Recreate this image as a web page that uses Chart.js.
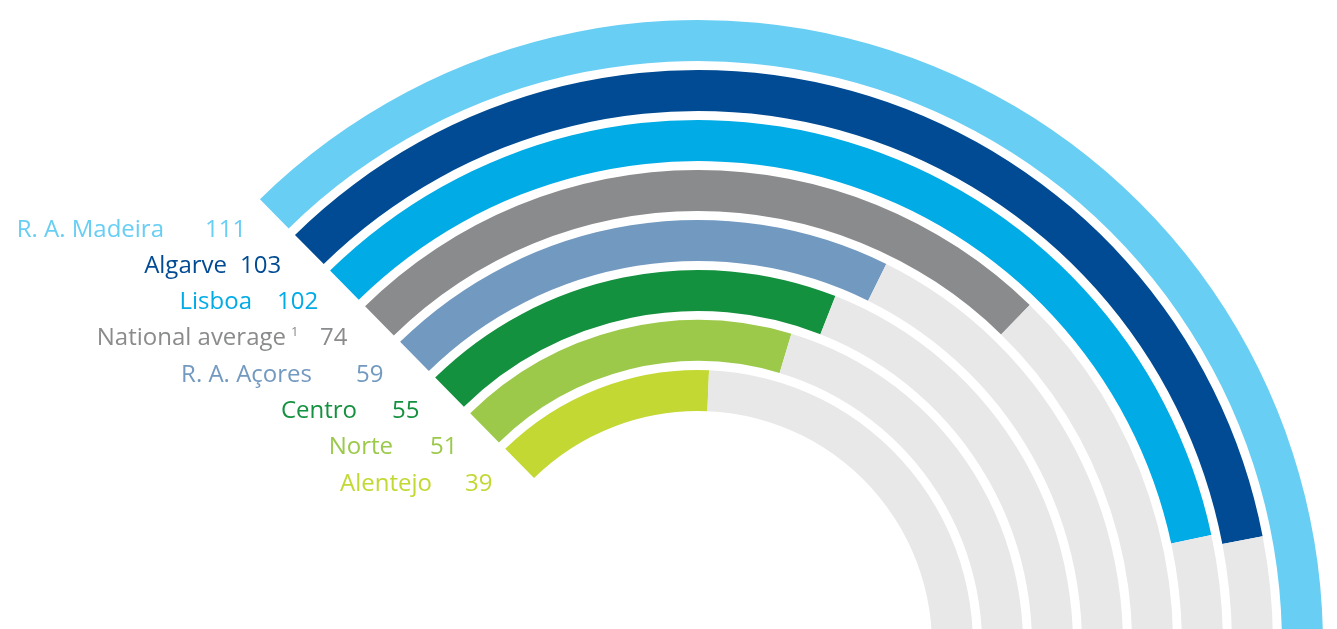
<!DOCTYPE html>
<html>
<head>
<meta charset="utf-8">
<script src="https://cdn.jsdelivr.net/npm/chart.js@4/dist/chart.umd.min.js"></script>
<style>
  html, body { margin: 0; padding: 0; background: #fff; overflow: hidden; }
  #wrap { position: relative; width: 1337px; height: 629px; overflow: hidden; }
  #chart { position: absolute; left: 0; top: 0; }
  .lbl { position: absolute; font-family: "Open Sans", "Noto Sans", sans-serif; font-size: 24px; line-height: 24px; white-space: nowrap; }
  .sup { position: absolute; font-family: "Open Sans", "Noto Sans", sans-serif; font-size: 13px; line-height: 13px; }
</style>
</head>
<body>
<div id="wrap">
  <canvas id="chart" width="1337" height="1290"></canvas>
</div>
<script>
// regions, outermost ring first
const regions = ['R. A. Madeira', 'Algarve', 'Lisboa', 'National average', 'R. A. Açores', 'Centro', 'Norte', 'Alentejo']
const values = [111, 103, 102, 74, 59, 55, 51, 39]
const footnotes = ['', '', '', '1', '', '', '', '']
const colors = ['#68cef4', '#004b93', '#00abe6', '#8a8b8d', '#7299c0', '#14913f', '#9cc94a', '#c3d833']

// scale: whole circle = 300 units, grey track runs to 120
const fullCircle = 300
const trackMax = 120
const trackColor = '#e8e8e8'

// label placement (name right edge, value left edge, baseline)
const labelPos = [
  [164, 205, 237],
  [227, 240, 273],
  [252, 277, 309],
  [286, 320, 345],
  [312, 356, 382],
  [357, 392, 418],
  [393, 430, 454],
  [432, 465, 491]
]

const datasets = []
regions.forEach((name, i) => {
  if (i > 0) {
    // white gap between rings
    datasets.push({
      label: 'gap',
      data: [1],
      backgroundColor: ['rgba(0,0,0,0)'],
      borderWidth: 0,
      weight: 9
    })
  }
  datasets.push({
    label: name,
    data: [values[i], trackMax - values[i], fullCircle - trackMax],
    backgroundColor: [colors[i], trackColor, 'rgba(0,0,0,0)'],
    borderWidth: 0,
    weight: 41
  })
})

new Chart('chart', {
  type: 'doughnut',
  data: { labels: ['value', 'track', 'rest'], datasets },
  options: {
    responsive: false,
    animation: false,
    events: [],
    rotation: -44.5,
    circumference: 360,
    cutout: 234,
    layout: { padding: { left: 73, right: 14, top: 20, bottom: 20 } },
    plugins: {
      legend: { display: false },
      tooltip: { enabled: false }
    }
  }
})

// labels as html text
const wrap = document.getElementById('wrap')
regions.forEach((name, i) => {
  const [nameRight, valueLeft, baseline] = labelPos[i]
  const top = baseline - 21

  const n = document.createElement('div')
  n.className = 'lbl'
  n.textContent = name
  n.style.color = colors[i]
  n.style.right = (1337 - nameRight) + 'px'
  n.style.top = top + 'px'
  wrap.appendChild(n)

  if (footnotes[i]) {
    const s = document.createElement('div')
    s.className = 'sup'
    s.textContent = footnotes[i]
    s.style.color = colors[i]
    s.style.left = (nameRight + 5) + 'px'
    s.style.top = (baseline - 20) + 'px'
    wrap.appendChild(s)
  }

  const v = document.createElement('div')
  v.className = 'lbl'
  v.textContent = values[i]
  v.style.color = colors[i]
  v.style.left = valueLeft + 'px'
  v.style.top = top + 'px'
  wrap.appendChild(v)
})
</script>
</body>
</html>
